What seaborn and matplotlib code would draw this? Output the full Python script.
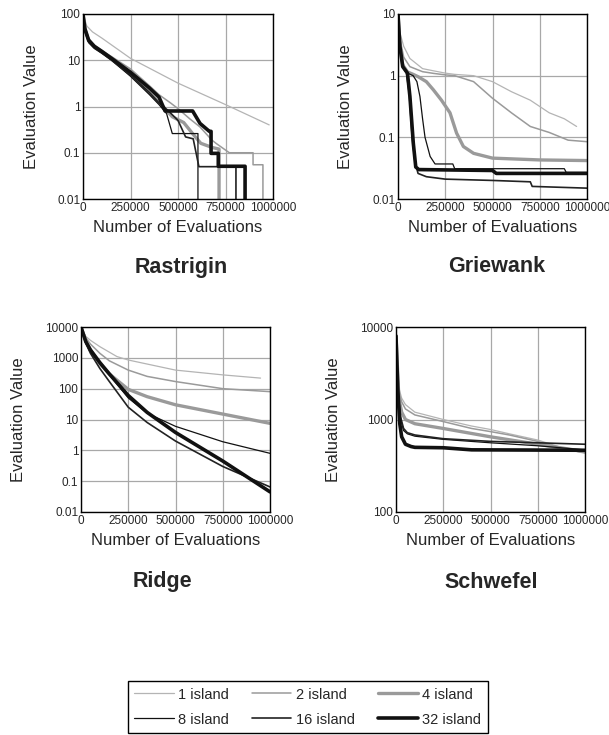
#%% Import library
import numpy as np
import pandas as pd
import seaborn as sns
import matplotlib as mpl
from matplotlib import pyplot as plt
from matplotlib.ticker import LogLocator, NullFormatter

#%% Data
island_labels = ['1 island', '2 island', '4 island', '8 island', '16 island', '32 island']

# Rastrigin
ras_x_1 = [0, 20000, 50000, 100000, 250000, 500000, 750000, 980000]
ras_y_1 = [100, 55, 41, 30, 11, 3.2, 1.1, 0.4]
ras_x_2 = [0, 10000, 30000, 60000, 100000, 150000, 250000, 350000, 400000, 460000, 500000,
           560000, 616000, 677000, 700000, 770000, 895000, 895000, 947000, 947000]
ras_y_2 = [100, 55, 30, 21, 16, 12, 6.5, 2.8, 1.8, 1.2, 0.9,
           0.55, 0.36, 0.19, 0.16, 0.1, 0.1, 0.055, 0.055, 0.003]
ras_x_4 = [0, 10000, 30000, 60000, 100000, 150000, 250000, 350000, 420000, 470000, 530000,
           580000, 620000, 680000, 716000, 716000]
ras_y_4 = [100, 45, 26, 19, 15, 10.5, 5, 2.0, 1.0, 0.6, 0.45,
           0.25, 0.16, 0.13, 0.12, 0.003]
ras_x_8 = [0, 10000, 30000, 60000, 100000, 150000, 250000, 350000, 400000, 440000, 470000,
           605000, 605000]
ras_y_8 = [100, 42, 24, 18, 14, 10, 4.5, 1.8, 1.1, 0.7, 0.26, 0.26, 0.003]
ras_x_16 = [0, 10000, 30000, 60000, 100000, 150000, 250000, 350000, 400000, 450000, 500000,
            540000, 580000, 610000, 805000, 805000]
ras_y_16 = [100, 44, 25, 19, 14.5, 10.2, 4.8, 2.0, 1.2, 0.8, 0.5,
            0.22, 0.2, 0.05, 0.05, 0.003]
ras_x_32 = [0, 10000, 30000, 60000, 100000, 150000, 250000, 350000, 400000, 432000, 577000,
            616000, 665000, 674000, 674000, 712000, 712000, 853000, 853000]
ras_y_32 = [100, 48, 27, 20, 15.5, 11, 5.5, 2.5, 1.6, 0.8, 0.8,
            0.43, 0.29, 0.29, 0.097, 0.097, 0.051, 0.051, 0.003]

# Griewank
gri_x_1 = [0, 10000, 30000, 63000, 130000, 187000, 250000, 300000, 400000, 500000, 600000,
           700000, 800000, 880000, 945000]
gri_y_1 = [10, 5, 3.0, 1.9, 1.3, 1.2, 1.1, 1.05, 1.0, 0.8, 0.55, 0.4, 0.25, 0.2, 0.15]
gri_x_2 = [0, 10000, 30000, 63000, 130000, 187000, 250000, 300000, 400000, 500000, 600000,
           700000, 800000, 900000, 1000000]
gri_y_2 = [10, 4, 2.0, 1.4, 1.16, 1.09, 1.03, 1.0, 0.8, 0.43, 0.25, 0.15, 0.12, 0.09, 0.085]
gri_x_4 = [0, 10000, 25000, 50000, 80000, 107000, 150000, 187000, 230000, 275000, 310000,
           346000, 400000, 500000, 750000, 1000000]
gri_y_4 = [10, 3, 1.5, 1.15, 1.05, 0.96, 0.8, 0.59, 0.4, 0.25, 0.117,
           0.071, 0.055, 0.046, 0.043, 0.042]
gri_x_8 = [0, 10000, 25000, 50000, 80000, 100000, 116000, 130000, 143000, 170000, 196000,
           290000, 300000, 880000, 890000, 1000000]
gri_y_8 = [10, 3, 1.4, 1.1, 1.0, 0.8, 0.46, 0.2, 0.1, 0.049, 0.037,
           0.037, 0.031, 0.031, 0.027, 0.027]
gri_x_16 = [0, 10000, 25000, 45000, 60000, 75000, 90000, 106000, 150000, 250000, 500000,
            700000, 710000, 1000000]
gri_y_16 = [10, 3, 1.4, 1.1, 0.5, 0.1, 0.04, 0.026, 0.023, 0.021, 0.02, 0.019, 0.016, 0.015]
gri_x_32 = [0, 10000, 25000, 50000, 63000, 81000, 94000, 110000, 500000, 520000, 1000000]
gri_y_32 = [10, 3, 1.4, 1.1, 0.46, 0.08, 0.033, 0.03, 0.029, 0.026, 0.026]

# Ridge
rid_x_1 = [0, 25000, 50000, 100000, 190000, 250000, 500000, 750000, 950000]
rid_y_1 = [10000, 5000, 3700, 2300, 1100, 850, 400, 280, 220]
rid_x = [0, 25000, 50000, 100000, 150000, 250000, 350000, 500000, 750000, 1000000]
rid_y_2 = [10000, 4500, 2800, 1400, 800, 400, 250, 170, 100, 80]
rid_y_4 = [10000, 3500, 1800, 650, 300, 95, 55, 30, 15, 7.5]
rid_y_8 = [10000, 3300, 1700, 650, 280, 50, 16, 6, 1.9, 0.8]
rid_y_16 = [10000, 3000, 1400, 450, 170, 25, 8, 2.0, 0.3, 0.065]
rid_y_32 = [10000, 3400, 1800, 700, 300, 60, 17, 3.8, 0.45, 0.045]

# Schwefel
sch_x_a = [0, 8000, 15000, 30000, 50000, 100000, 250000, 400000, 500000, 600000, 750000,
           900000, 1000000]
sch_y_1 = [8000, 4000, 2200, 1700, 1450, 1200, 1000, 850, 780, 700, 600, 480, 430]
sch_y_2 = [8000, 3800, 2000, 1550, 1300, 1120, 950, 800, 740, 680, 580, 470, 440]
sch_x_4 = [0, 8000, 15000, 30000, 50000, 100000, 250000, 500000, 750000, 1000000]
sch_y_4 = [8000, 3500, 1700, 1200, 1000, 900, 800, 650, 540, 450]
sch_x_b = [0, 8000, 15000, 25000, 40000, 60000, 100000, 250000, 500000, 750000, 1000000]
sch_y_8 = [8000, 3000, 1500, 1000, 760, 700, 660, 610, 560, 520, 470]
sch_y_16 = [8000, 3200, 1600, 1050, 800, 720, 680, 620, 580, 560, 540]
sch_x_32 = [0, 5000, 10000, 20000, 30000, 50000, 80000, 100000, 250000, 400000, 1000000]
sch_y_32 = [8000, 4000, 2000, 900, 650, 540, 510, 500, 495, 470, 465]

x_ticks = [0, 250000, 500000, 750000, 1000000]

#%% Styles
plt.style.use('default')
sns.set_style('white')
plt.rcParams['font.family'] = ['Liberation Sans', 'DejaVu Sans']

line_colors = ['#b4b4b4', '#9a9a9a', '#9a9a9a', '#111111', '#222222', '#111111']
line_widths = [0.9, 1.1, 2.4, 0.9, 1.2, 2.6]

#%% Custom functions
def draw_panel(ax, series, y_ticks, title, title_xy, ylab_x):
    for i, (xs, ys) in enumerate(series):
        sns.lineplot(x=xs, y=ys, ax=ax, estimator=None, sort=False,
                     color=line_colors[i], linewidth=line_widths[i],
                     label=island_labels[i], legend=False)
    ax.set_yscale('log')
    ax.set_xlim(0, 1000000)
    ax.set_ylim(y_ticks[0], y_ticks[-1])
    ax.set_xticks(x_ticks)
    ax.set_xticklabels([str(t) for t in x_ticks])
    ax.set_yticks(y_ticks)
    ax.set_yticklabels([('%g' % t) for t in y_ticks])
    ax.yaxis.set_minor_locator(LogLocator(base=10, subs=np.arange(2, 10)))
    ax.yaxis.set_minor_formatter(NullFormatter())
    ax.tick_params(axis='both', which='major', length=0, labelsize=8.5, pad=2)
    ax.tick_params(axis='y', which='minor', direction='in', length=2, width=0.6)
    ax.grid(True, which='major', color='#a8a8a8', linewidth=0.9)
    for sp in ax.spines.values():
        sp.set_color('black')
        sp.set_linewidth(1.0)
    ax.set_xlabel('Number of Evaluations', fontsize=12)
    ax.set_ylabel('Evaluation Value', fontsize=12)
    ax.xaxis.set_label_coords(0.5, -0.115)
    ax.yaxis.set_label_coords(ylab_x, 0.5)
    fig.text(title_xy[0] / 609, 1 - title_xy[1] / 735, title, fontsize=15.5,
             fontweight='bold', ha='center', va='center')

#%% Figure
fig = plt.figure(figsize=(6.09, 7.35), dpi=100)

ax_ras = fig.add_axes([83 / 609, 1 - 199 / 735, 190 / 609, 185 / 735])
ax_gri = fig.add_axes([398 / 609, 1 - 199 / 735, 189 / 609, 185 / 735])
ax_rid = fig.add_axes([81 / 609, 1 - 512 / 735, 189 / 609, 185 / 735])
ax_sch = fig.add_axes([396 / 609, 1 - 512 / 735, 189 / 609, 185 / 735])

draw_panel(ax_ras,
           [(ras_x_1, ras_y_1), (ras_x_2, ras_y_2), (ras_x_4, ras_y_4),
            (ras_x_8, ras_y_8), (ras_x_16, ras_y_16), (ras_x_32, ras_y_32)],
           [0.01, 0.1, 1, 10, 100], 'Rastrigin', (181, 267), -0.232)
draw_panel(ax_gri,
           [(gri_x_1, gri_y_1), (gri_x_2, gri_y_2), (gri_x_4, gri_y_4),
            (gri_x_8, gri_y_8), (gri_x_16, gri_y_16), (gri_x_32, gri_y_32)],
           [0.01, 0.1, 1, 10], 'Griewank', (497, 267), -0.238)
draw_panel(ax_rid,
           [(rid_x_1, rid_y_1), (rid_x, rid_y_2), (rid_x, rid_y_4),
            (rid_x, rid_y_8), (rid_x, rid_y_16), (rid_x, rid_y_32)],
           [0.01, 0.1, 1, 10, 100, 1000, 10000], 'Ridge', (162, 582), -0.291)
draw_panel(ax_sch,
           [(sch_x_a, sch_y_1), (sch_x_a, sch_y_2), (sch_x_4, sch_y_4),
            (sch_x_b, sch_y_8), (sch_x_b, sch_y_16), (sch_x_32, sch_y_32)],
           [100, 1000, 10000], 'Schwefel', (491, 583), -0.291)

# legend: rows 1/2/4 and 8/16/32
handles, labels = ax_ras.get_legend_handles_labels()
order = [0, 3, 1, 4, 2, 5]
leg = fig.legend([handles[i] for i in order], [labels[i] for i in order],
                 loc='upper center', bbox_to_anchor=(0.505, 1 - 681 / 735),
                 ncol=3, fontsize=10.5, frameon=True, fancybox=False,
                 edgecolor='black', framealpha=1, handlelength=2.7,
                 handletextpad=0.3, columnspacing=1.6, labelspacing=0.75,
                 borderpad=0.45, borderaxespad=0)
leg.get_frame().set_linewidth(1.0)

fig.savefig('out.png', dpi=100)
plt.close()
